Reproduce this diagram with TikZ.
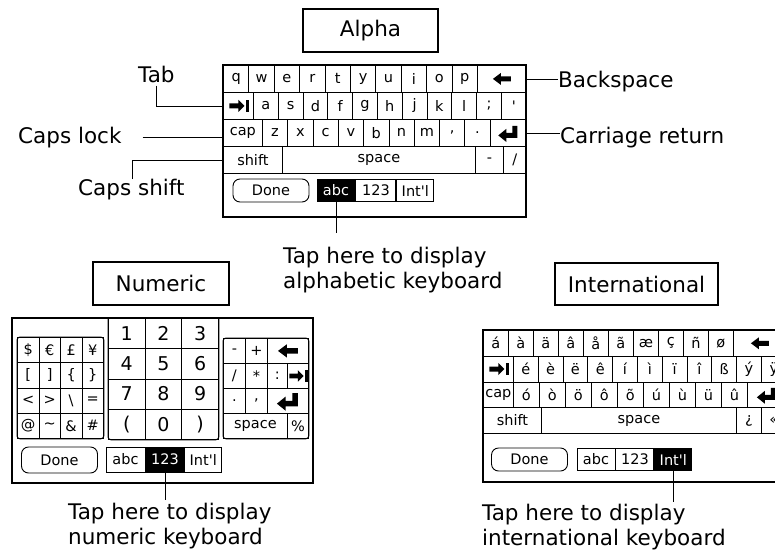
\documentclass[tikz,border=0pt]{standalone}
\usepackage{fontspec}
\setmainfont{DejaVu Sans}
\usetikzlibrary{positioning}

\newcommand{\lblfont}{\fontsize{21.5}{25}\selectfont}
\newcommand{\keyfont}{\fontsize{14.5}{14.5}\selectfont}
\newcommand{\numfont}{\fontsize{19}{19}\selectfont}

\tikzset{
  kbkey/.style={draw, line width=0.8pt, inner sep=0pt, anchor=north west, font=\keyfont},
  akey/.style={kbkey, minimum height=27pt},
  ikey/.style={kbkey, minimum height=25.75pt},
  skey/.style={kbkey, minimum height=25.25pt, minimum width=21.5pt},
  dkey/.style={kbkey, minimum height=30.25pt, minimum width=36.67pt, font=\numfont},
  rkey/.style={kbkey, minimum height=25pt},
  kbframe/.style={draw, line width=1.1pt},
  donebtn/.style={draw, line width=0.9pt, rounded corners=7pt, minimum width=76pt,
    minimum height=23pt, inner sep=0pt, font=\keyfont},
  kbtab/.style={draw, line width=0.9pt, minimum height=22pt, inner sep=0pt, font=\keyfont},
  kbsel/.style={kbtab, fill=black, text=white},
  ttl/.style={draw, line width=1.8pt, font=\lblfont, minimum height=43pt, inner sep=0pt},
  lbl/.style={font=\lblfont, inner sep=0pt},
  ldr/.style={line width=0.8pt},
  bksp/.pic={\fill (-9,0) -- (-1,6) -- (-1,2.5) -- (9,2.5) -- (9,-2.5) -- (-1,-2.5) -- (-1,-6) -- cycle;},
  tabkey/.pic={\fill (-9,2.5) -- (0,2.5) -- (0,6) -- (6,0) -- (0,-6) -- (0,-2.5) -- (-9,-2.5) -- cycle;
    \fill (7.5,-6) rectangle (10.5,6);},
  retkey/.pic={\fill (9,7) -- (9,-5) -- (-2,-5) -- (-2,-9) -- (-10,-2.5) -- (-2,4) -- (-2,0) -- (4,0) -- (4,7) -- cycle;}
}

\begin{document}
\begin{tikzpicture}[x=1pt, y=1pt]
\useasboundingbox (0,0) rectangle (775,-551);

% titles
\node[ttl, minimum width=135pt] (alpha) at (370.5,-30.5) {Alpha};
\node[ttl, minimum width=136pt] (numeric) at (161,-283.5) {Numeric};
\node[ttl, minimum width=163pt, minimum height=42pt] (intl) at (636.5,-284) {International};

% alpha keyboard
\draw[kbframe] (223,-65) rectangle (526,-217);
\foreach \k [count=\i from 0] in {q,w,e,r,t,y,u,i,o,p}
  \node[akey, minimum width=25.4pt] (aq\i) at ({223+25.4*\i},-65) {\k};
\node[akey, minimum width=49pt] (abk) at (477,-65) {};
\pic at (abk.center) {bksp};
\node[akey, minimum width=30pt] (atb) at (223,-92) {};
\pic at (atb.center) {tabkey};
\foreach \k [count=\i from 0] in {a,s,d,f,g,h,j,k,l,;,\textquotesingle}
  \node[akey, minimum width=24.8pt] (aa\i) at ({253+24.8*\i},-92) {\k};
\node[akey, minimum width=39pt] (acap) at (223,-119) {cap};
\foreach \k [count=\i from 0] in {z,x,c,v,b,n,m,{,},.}
  \node[akey, minimum width=25.3pt] (az\i) at ({262+25.3*\i},-119) {\k};
\node[akey, minimum width=36.3pt] (aret) at (489.7,-119) {};
\pic at (aret.center) {retkey};
\node[akey, minimum width=59pt] (ash) at (223,-146) {shift};
\node[akey, minimum width=193pt] (asp) at (282,-146) {space};
\node[akey, minimum width=28pt] (amin) at (475,-146) {-};
\node[akey, minimum width=23pt] (asl) at (503,-146) {/};
\node[donebtn] (adone) at (271,-190.5) {Done};
\node[kbsel, minimum width=38pt] (aabc) at (336,-190.5) {abc};
\node[kbtab, minimum width=40pt] (a123) [right=0pt of aabc] {123};
\node[kbtab, minimum width=37pt] (aint) [right=0pt of a123] {Int\textquotesingle l};

% alpha labels
\node[lbl, anchor=base west] (tabl) at (138,-82) {Tab};
\node[lbl, anchor=base west] (capl) at (18,-143) {Caps lock};
\node[lbl, anchor=base west] (shfl) at (78,-195) {Caps shift};
\node[lbl, anchor=base west] (bkl) at (558,-87) {Backspace};
\node[lbl, anchor=base west] (crl) at (560,-143) {Carriage return};
\coordinate (shft) at (132,-179);
\draw[ldr, shorten <=3pt] (tabl.south) |- (atb.west);
\draw[ldr] ([xshift=21pt]capl.east) -- (capl.east -| acap.west);
\draw[ldr] (shft) |- (ash.west);
\draw[ldr] (abk.east) -- (abk.east -| bkl.west);
\draw[ldr] (aret.east) -- (aret.east -| crl.west);
\node[lbl, align=left, anchor=north west] (atxt) at (283,-246.7) {Tap here to display\\alphabetic keyboard};
\draw[ldr, shorten >=13.7pt] (aabc.south) -- (aabc.south |- atxt.north);

% numeric keyboard
\draw[kbframe] (12,-318) rectangle (313,-483);
\foreach \k [count=\i from 0] in {\$,€,£,¥}
  \node[skey] (sa\i) at ({17+21.5*\i},-337) {\k};
\foreach \k [count=\i from 0] in {{[},{]},\{,\}}
  \node[skey] (sb\i) at ({17+21.5*\i},-362.25) {\k};
\foreach \k [count=\i from 0] in {<,>,\textbackslash,=}
  \node[skey] (sc\i) at ({17+21.5*\i},-387.5) {\k};
\foreach \k [count=\i from 0] in {@,\textasciitilde,\&,\#}
  \node[skey] (sd\i) at ({17+21.5*\i},-412.75) {\k};
\draw[line width=1pt, rounded corners=3pt] (sa0.north west) rectangle (sd3.south east);
\foreach \k [count=\i from 0] in {1,2,3}
  \node[dkey] (da\i) at ({108+36.67*\i},-318) {\k};
\foreach \k [count=\i from 0] in {4,5,6}
  \node[dkey] (db\i) at ({108+36.67*\i},-348.25) {\k};
\foreach \k [count=\i from 0] in {7,8,9}
  \node[dkey] (dc\i) at ({108+36.67*\i},-378.5) {\k};
\foreach \k [count=\i from 0] in {{(},0,{)}}
  \node[dkey] (dd\i) at ({108+36.67*\i},-408.75) {\k};
\draw[line width=1pt, rounded corners=3pt] (da0.north west) |- (dd2.south east) -- (da2.north east);
\node[rkey, minimum width=22pt] (rmin) at (223,-338) {-};
\node[rkey, minimum width=22pt] (rplus) at (245,-338) {+};
\node[rkey, minimum width=41pt] (rbk) at (267,-338) {};
\pic[scale=1.1] at (rbk.center) {bksp};
\node[rkey, minimum width=22pt] (rsl) at (223,-363) {/};
\node[rkey, minimum width=22pt] (rast) at (245,-363) {*};
\node[rkey, minimum width=20pt] (rcol) at (267,-363) {:};
\node[rkey, minimum width=21pt] (rtb) at (287,-363) {};
\pic[scale=0.95] at (rtb.center) {tabkey};
\node[rkey, minimum width=22pt] (rdot) at (223,-388) {.};
\node[rkey, minimum width=22pt] (rcom) at (245,-388) {,};
\node[rkey, minimum width=41pt] (rret) at (267,-388) {};
\pic[scale=1.1] at (rret.center) {retkey};
\node[rkey, minimum width=64pt] (rsp) at (223,-413) {space};
\node[rkey, minimum width=21pt] (rpct) at (287,-413) {\%};
\draw[line width=1pt, rounded corners=3pt] (rmin.north west) rectangle (rpct.south east);
\node[donebtn, minimum height=26pt] (ndone) at (59.5,-460) {Done};
\node[kbtab, minimum width=39pt, minimum height=25pt] (nabc) at (125.5,-459.5) {abc};
\node[kbsel, minimum width=38pt, minimum height=25pt] (n123) [right=0pt of nabc] {123};
\node[kbtab, minimum width=37pt, minimum height=25pt] (nint) [right=0pt of n123] {Int\textquotesingle l};
\node[lbl, align=left, anchor=north west] (ntxt) at (68,-503.2) {Tap here to display\\numeric keyboard};
\draw[ldr, shorten >=3.2pt] (n123.south) -- (n123.south |- ntxt.north);

% international keyboard
\begin{scope}
\clip (0,0) rectangle (775,-551);
\draw[kbframe] (483,-330) rectangle (786,-482);
\foreach \k [count=\i from 0] in {á,à,ä,â,å,ã,æ,ç,ñ,ø}
  \node[ikey, minimum width=25pt] (ia\i) at ({483+25*\i},-330) {\k};
\node[ikey, minimum width=53pt] (ibk) at (733,-330) {};
\pic at (ibk.center) {bksp};
\node[ikey, minimum width=30pt] (itb) at (483,-355.75) {};
\pic at (itb.center) {tabkey};
\foreach \k [count=\i from 0] in {é,è,ë,ê,í,ì,ï,î,ß,ý,ÿ}
  \node[ikey, minimum width=24.8pt] (ie\i) at ({513+24.8*\i},-355.75) {\k};
\node[ikey, minimum width=30pt] (icap) at (483,-381.5) {cap};
\foreach \k [count=\i from 0] in {ó,ò,ö,ô,õ,ú,ù,ü,û}
  \node[ikey, minimum width=26pt] (io\i) at ({513+26*\i},-381.5) {\k};
\node[ikey, minimum width=39pt] (iret) at (747,-381.5) {};
\pic at (iret.center) {retkey};
\node[ikey, minimum width=58pt] (ish) at (483,-407.25) {shift};
\node[ikey, minimum width=195pt] (isp) at (541,-407.25) {space};
\node[ikey, minimum width=25pt] (iinv) at (736,-407.25) {¿};
\node[ikey, minimum width=25pt] (iguil) at (761,-407.25) {«};
\end{scope}
\node[donebtn] (idone) at (529.5,-459.5) {Done};
\node[kbtab, minimum width=38pt] (iabc) at (596,-459.5) {abc};
\node[kbtab, minimum width=38pt] (i123) [right=0pt of iabc] {123};
\node[kbsel, minimum width=37pt] (iint) [right=0pt of i123] {Int\textquotesingle l};
\node[lbl, align=left, anchor=north west] (itxt) at (482,-503.5) {Tap here to display\\international keyboard};
\draw[ldr, shorten >=2pt] (iint.south) -- (iint.south |- itxt.north);
\end{tikzpicture}
\end{document}
